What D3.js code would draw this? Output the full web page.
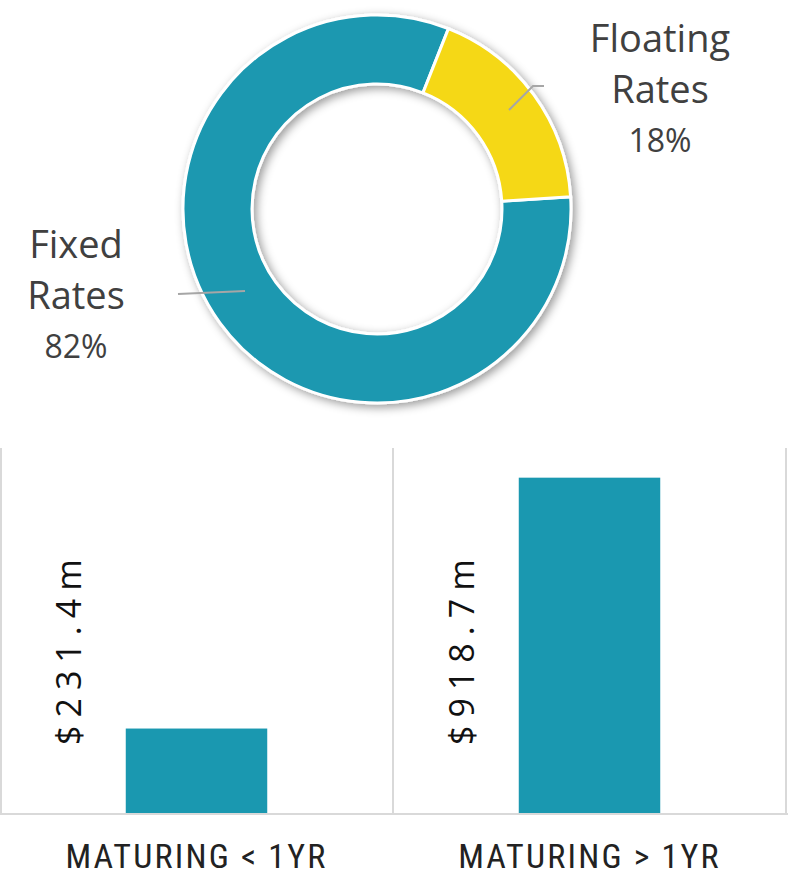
<!DOCTYPE html>
<html><head><meta charset="utf-8">
<script src="https://cdn.jsdelivr.net/npm/d3@7/dist/d3.min.js"></script>
<style>
html,body{margin:0;padding:0;background:#fff;}
svg{display:block;}
</style></head>
<body>
<script>
// ---- data ----
const rateCategories = ["Fixed Rates", "Floating Rates"];
const rateShares = [82, 18];
const rateLabelLines = [["Fixed", "Rates", "82%"], ["Floating", "Rates", "18%"]];
const rateColors = ["#1A98B0", "#F5D817"];

const maturityCategories = ["MATURING < 1YR", "MATURING > 1YR"];
const maturityValues = [231.4, 918.7];
const maturityLabels = ["$231.4m", "$918.7m"];

const W = 800, H = 877;
const svg = d3.select("body").append("svg").attr("width", W).attr("height", H);
const defs = svg.append("defs");
const f = defs.append("filter").attr("id", "shadow").attr("x", "-20%").attr("y", "-20%").attr("width", "140%").attr("height", "140%");
f.append("feDropShadow").attr("dx", 3).attr("dy", 3).attr("stdDeviation", 5).attr("flood-color", "#000").attr("flood-opacity", 0.4);

const textColor = "#404040";
const labelFont = "'Open Sans', 'Noto Sans', sans-serif";

// ---- donut ----
const cx = 377, cy = 209, rOuter = 194, rInner = 125;
const start = 0.24 * 2 * Math.PI;
const pie = d3.pie().sort(null).value(d => d).startAngle(start).endAngle(start + 2 * Math.PI);
const arcs = pie(rateShares);
const arc = d3.arc().innerRadius(rInner).outerRadius(rOuter);
const gD = svg.append("g").attr("transform", `translate(${cx},${cy})`);
gD.append("g").attr("filter", "url(#shadow)")
  .selectAll("path").data(arcs).join("path")
  .attr("d", arc)
  .attr("fill", (d, i) => rateColors[i])
  .attr("stroke", "#fff").attr("stroke-width", 3);

// leader lines
const leaderPaths = [
  [[-132, 82], [-199, 85]],
  [[132, -99], [156, -123], [167, -123]]
];
gD.selectAll("path.leader").data(leaderPaths).join("path")
  .attr("class", "leader")
  .attr("d", d => d3.line()(d))
  .attr("fill", "none").attr("stroke", "#A6A6A6").attr("stroke-width", 2);

const labelPos = [[76, 258], [660, 52]];
const lineH = 51;
rateLabelLines.forEach((lines, i) => {
  const t = svg.append("text")
    .attr("x", labelPos[i][0]).attr("y", labelPos[i][1])
    .attr("text-anchor", "middle")
    .attr("fill", textColor)
    .style("font-family", labelFont)
    .style("font-size", "38px");
  lines.forEach((l, j) => {
    t.append("tspan").attr("x", labelPos[i][0]).attr("y", labelPos[i][1] + j * (j === 2 ? 0.98 : 1) * lineH)
      .style("font-size", j === 2 ? "32px" : "38px")
      .text(l);
  });
});

// ---- bars ----
const x = d3.scaleBand().domain(maturityCategories).range([0, 786]).paddingInner(0.64).paddingOuter(0.32);
const y = d3.scaleLinear().domain([0, 1000]).range([813, 448]);
const gB = svg.append("g");
const gridXs = maturityCategories.map(c => x(c) - x.step() * x.paddingOuter()).concat([786]);
gB.selectAll("line.div").data(gridXs).join("line")
  .attr("x1", d => Math.max(d, 1)).attr("x2", d => Math.max(d, 1))
  .attr("y1", y(1000)).attr("y2", y(0))
  .attr("stroke", "#D9D9D9").attr("stroke-width", 2);
gB.selectAll("rect").data(maturityValues).join("rect")
  .attr("x", (d, i) => x(maturityCategories[i]))
  .attr("width", x.bandwidth())
  .attr("y", d => y(d))
  .attr("height", d => y(0) - y(d))
  .attr("fill", rateColors[0]);
gB.append("line").attr("x1", 0).attr("x2", 788).attr("y1", y(0) + 1).attr("y2", y(0) + 1)
  .attr("stroke", "#D9D9D9").attr("stroke-width", 2);

// value labels (rotated)
gB.selectAll("text.val").data(maturityLabels).join("text")
  .attr("class", "val")
  .attr("transform", (d, i) => `translate(${x(maturityCategories[i]) - 45},745) rotate(-90)`)
  .attr("fill", "#111")
  .style("font-family", "'Open Sans', 'DejaVu Sans', sans-serif")
  .style("font-size", "34px")
  .style("letter-spacing", "8px")
  .text(d => d);

// category axis
const axis = d3.axisBottom(x).tickSize(0).tickPadding(0);
const gA = svg.append("g").attr("transform", `translate(0,${y(0)})`).call(axis);
gA.select(".domain").remove();
gA.selectAll("text")
  .attr("y", 55).attr("dy", 0)
  .attr("fill", "#222")
  .style("font-family", "'Roboto Condensed', sans-serif")
  .style("font-stretch", "condensed")
  .style("letter-spacing", "2.2px")
  .style("font-size", "34px");
</script>
</body></html>
